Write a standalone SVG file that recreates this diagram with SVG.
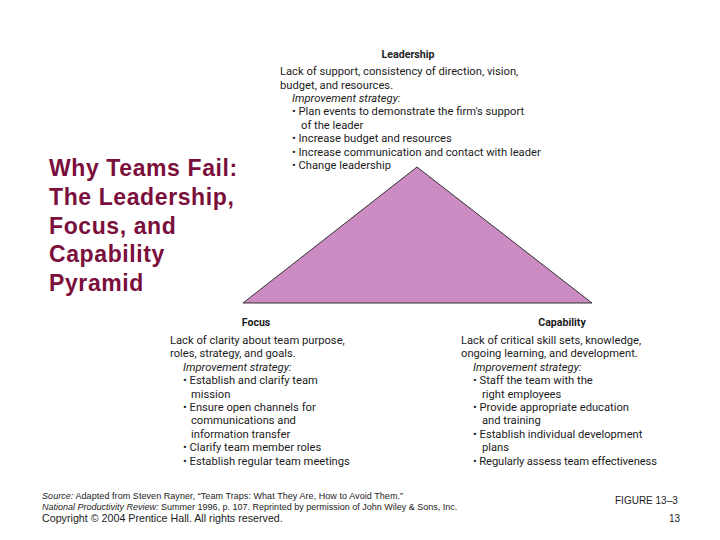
<svg xmlns="http://www.w3.org/2000/svg" width="720" height="540" viewBox="0 0 720 540">
<style>
text{fill:#1c1c1c}
.t{font-family:"Liberation Sans",Arial,sans-serif;font-size:23px;font-weight:700;letter-spacing:.6px}
#title text{fill:#7a0f3c}
.b,.i,.h{font-family:Roboto,"Open Sans",sans-serif;font-size:11.2px}
.i{font-style:italic}
.h{font-weight:700;font-size:10.6px;text-anchor:middle}
.s{font-family:"Liberation Sans",Arial,sans-serif;font-size:9px}
.c{font-family:"Liberation Sans",Arial,sans-serif;font-size:10.7px}
.f{font-family:"Liberation Sans",Arial,sans-serif;font-size:10px}
</style>
<rect width="720" height="540" fill="#fff"/>
<g id="pyramid"><polygon points="417,167 592,303 243,303" fill="#cc8bc2" stroke="#333" stroke-width="1"/></g>
<g id="title">
<text class="t" x="49" y="176">Why Teams Fail:</text>
<text class="t" x="49" y="205">The Leadership,</text>
<text class="t" x="49" y="234">Focus, and</text>
<text class="t" x="49" y="262">Capability</text>
<text class="t" x="49" y="291">Pyramid</text>
</g>
<g id="leadership">
<text class="h" x="408" y="58">Leadership</text>
<text class="b" x="280" y="75">Lack of support, consistency of direction, vision,</text>
<text class="b" x="280" y="89">budget, and resources.</text>
<text class="i" x="292" y="102">Improvement strategy:</text>
<text class="b" x="292" y="115">• Plan events to demonstrate the firm's support</text>
<text class="b" x="301" y="129">of the leader</text>
<text class="b" x="292" y="142">• Increase budget and resources</text>
<text class="b" x="292" y="156">• Increase communication and contact with leader</text>
<text class="b" x="292" y="169">• Change leadership</text>
</g>
<g id="focus">
<text class="h" x="256" y="326">Focus</text>
<text class="b" x="170" y="344">Lack of clarity about team purpose,</text>
<text class="b" x="170" y="357">roles, strategy, and goals.</text>
<text class="i" x="183" y="371">Improvement strategy:</text>
<text class="b" x="183" y="384">• Establish and clarify team</text>
<text class="b" x="191" y="398">mission</text>
<text class="b" x="183" y="411">• Ensure open channels for</text>
<text class="b" x="191" y="424">communications and</text>
<text class="b" x="191" y="438">information transfer</text>
<text class="b" x="183" y="451">• Clarify team member roles</text>
<text class="b" x="183" y="465">• Establish regular team meetings</text>
</g>
<g id="capability">
<text class="h" x="562" y="326">Capability</text>
<text class="b" x="461" y="344">Lack of critical skill sets, knowledge,</text>
<text class="b" x="461" y="357">ongoing learning, and development.</text>
<text class="i" x="473" y="371">Improvement strategy:</text>
<text class="b" x="473" y="384">• Staff the team with the</text>
<text class="b" x="482" y="398">right employees</text>
<text class="b" x="473" y="411">• Provide appropriate education</text>
<text class="b" x="482" y="424">and training</text>
<text class="b" x="473" y="438">• Establish individual development</text>
<text class="b" x="482" y="451">plans</text>
<text class="b" x="473" y="465" textLength="184">• Regularly assess team effectiveness</text>
</g>
<g id="footer">
<text class="s" x="42" y="499" textLength="361"><tspan font-style="italic">Source:</tspan> Adapted from Steven Rayner, “Team Traps: What They Are, How to Avoid Them.”</text>
<text class="s" x="42" y="510"><tspan font-style="italic">National Productivity Review:</tspan> Summer 1996, p. 107. Reprinted by permission of John Wiley &amp; Sons, Inc.</text>
<text class="c" x="42" y="522">Copyright © 2004 Prentice Hall. All rights reserved.</text>
<text class="f" x="615" y="504">FIGURE 13–3</text>
<text class="f" x="680" y="522" text-anchor="end">13</text>
</g>
</svg>
